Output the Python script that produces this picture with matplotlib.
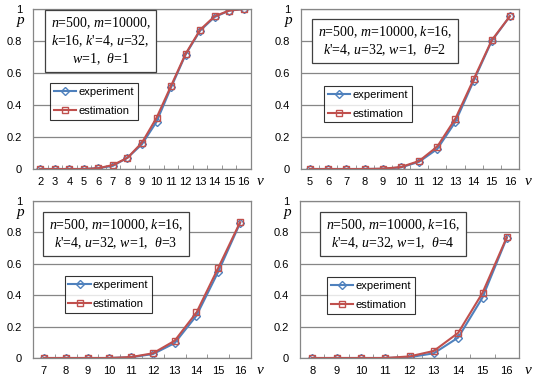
import numpy as np
import matplotlib
matplotlib.use("Agg")
import matplotlib.pyplot as plt

plt.rcParams['font.family'] = ['Liberation Sans', 'DejaVu Sans']
plt.rcParams['mathtext.fontset'] = 'custom'
plt.rcParams['mathtext.rm'] = 'Liberation Serif'
plt.rcParams['mathtext.it'] = 'Liberation Serif:italic'

# data
v1 = [2, 3, 4, 5, 6, 7, 8, 9, 10, 11, 12, 13, 14, 15, 16]
exp1 = [0, 0, 0, 0, 0.005, 0.02, 0.07, 0.155, 0.295, 0.51, 0.715, 0.865, 0.95, 0.99, 1.0]
est1 = [0, 0, 0, 0, 0.005, 0.025, 0.07, 0.165, 0.32, 0.52, 0.72, 0.87, 0.955, 0.99, 1.0]

v2 = [5, 6, 7, 8, 9, 10, 11, 12, 13, 14, 15, 16]
exp2 = [0, 0, 0, 0, 0.001, 0.01, 0.045, 0.125, 0.295, 0.55, 0.80, 0.955]
est2 = [0, 0, 0, 0, 0.002, 0.012, 0.05, 0.14, 0.315, 0.56, 0.805, 0.955]

v3 = [7, 8, 9, 10, 11, 12, 13, 14, 15, 16]
exp3 = [0, 0, 0, 0, 0.005, 0.025, 0.095, 0.27, 0.55, 0.86]
est3 = [0, 0, 0, 0, 0.006, 0.03, 0.11, 0.29, 0.575, 0.865]

v4 = [8, 9, 10, 11, 12, 13, 14, 15, 16]
exp4 = [0, 0, 0, 0, 0.005, 0.03, 0.13, 0.385, 0.765]
est4 = [0, 0, 0, 0, 0.01, 0.045, 0.16, 0.415, 0.77]

labels = [
    "$n$=500, $m$=10000,\n$k$=16, $k$'=4, $u$=32,\n$w$=1,  $\\theta$=1",
    "$n$=500, $m$=10000, $k$=16,\n$k$'=4, $u$=32, $w$=1,  $\\theta$=2",
    "$n$=500, $m$=10000, $k$=16,\n$k$'=4, $u$=32, $w$=1,  $\\theta$=3",
    "$n$=500, $m$=10000, $k$=16,\n$k$'=4, $u$=32, $w$=1,  $\\theta$=4",
]

W, H = 534, 384
# axes boxes in pixels: left, right, top, bottom
boxes = [(33, 251, 9, 169), (301, 519, 9, 169), (33, 251, 201, 358), (300, 519, 201, 358)]
textpos = [(0.31, 0.80), (0.385, 0.80), (0.38, 0.79), (0.425, 0.79)]
legpos = [(0.078, 0.535), (0.105, 0.52), (0.145, 0.52), (0.123, 0.515)]

blue = '#4F81BD'
red = '#C0504D'
grid = '#868686'

fig = plt.figure(figsize=(W / 100, H / 100), dpi=100)
data = [(v1, exp1, est1), (v2, exp2, est2), (v3, exp3, est3), (v4, exp4, est4)]

for i, (v, ex, es) in enumerate(data):
    l, r, t, b = boxes[i]
    ax = fig.add_axes([l / W, 1 - b / H, (r - l) / W, (b - t) / H])
    ax.plot(v, ex, color=blue, lw=1.5, marker='D', ms=4.5, mfc='none', mec=blue, mew=1, label='experiment')
    ax.plot(v, es, color=red, lw=1.5, marker='s', ms=4.5, mfc='none', mec=red, mew=1, label='estimation')
    ax.set_xlim(v[0] - 0.5, v[-1] + 0.5)
    ax.set_ylim(0, 1)
    ax.set_xticks(v)
    ax.set_xticks(np.arange(v[0] - 0.5, v[-1] + 1, 1), minor=True)
    ax.set_yticks([0, 0.2, 0.4, 0.6, 0.8, 1])
    ax.set_yticklabels(['0', '0.2', '0.4', '0.6', '0.8', '1'])
    ax.tick_params(axis='x', which='major', length=0, labelsize=8, pad=6)
    ax.tick_params(axis='x', which='minor', length=3, direction='in', color=grid)
    ax.tick_params(axis='y', length=0, labelsize=8, pad=8)
    ax.grid(axis='y', color=grid, lw=0.9)
    ax.set_axisbelow(True)
    for s in ax.spines.values():
        s.set_color(grid)
        s.set_linewidth(0.9)
    ax.text(-0.055, 0.92, '$p$', transform=ax.transAxes, fontsize=11, ha='center', va='center')
    ax.text(1.045, -0.075, '$v$', transform=ax.transAxes, fontsize=11, ha='center', va='center')
    ax.text(textpos[i][0], textpos[i][1], labels[i], transform=ax.transAxes, fontsize=10,
            family='Liberation Serif', ha='center', va='center', multialignment='center',
            linespacing=1.2,
            bbox=dict(boxstyle='square,pad=0.4', fc='white', ec='#404040', lw=0.9))
    leg = ax.legend(loc='upper left', bbox_to_anchor=legpos[i], fontsize=8, fancybox=False,
                    frameon=True, edgecolor='black', handlelength=2.0, handletextpad=0.2,
                    borderpad=0.35, labelspacing=0.8, borderaxespad=0)
    leg.get_frame().set_linewidth(0.8)

fig.savefig('out.png', dpi=100)
